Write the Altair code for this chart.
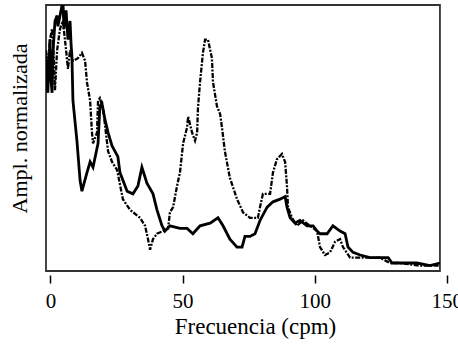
import altair as alt
import pandas as pd

# Solid (heavy) trace
solid_x = [-1.7, -1.3, -1.0, -0.2, 0.2, 0.6, 1.0, 1.7, 2.5, 2.8, 3.6, 4.4, 4.7, 5.1, 5.9, 6.6,
           7.4, 7.8, 8.1, 8.5, 10.0, 11.2, 11.9, 13.8, 15.0, 16.1, 18.0, 18.7, 19.5, 20.6, 21.8,
           23.3, 25.5, 26.3, 29.0, 31.2, 33.1, 34.6, 36.5, 38.8, 40.3, 42.2, 43.3, 45.2, 49.0,
           51.7, 53.9, 56.6, 60.4, 63.4, 65.3, 67.9, 70.6, 72.5, 73.6, 75.5, 77.4, 79.3, 82.0,
           84.2, 86.9, 88.8, 89.5, 90.7, 92.5, 94.4, 97.1, 99.4, 100.9, 102.0, 104.7, 106.9,
           109.6, 111.5, 112.6, 114.5, 117.2, 120.9, 124.7, 127.8, 129.3, 132.3, 138.7, 143.6, 147.4]
solid_y = [0.81, 0.70, 0.67, 0.87, 0.72, 0.67, 0.83, 0.94, 0.96, 0.92, 0.96, 1.00, 1.02, 0.91, 0.98, 0.87,
           0.94, 0.85, 0.81, 0.64, 0.49, 0.34, 0.30, 0.37, 0.41, 0.39, 0.48, 0.62, 0.63, 0.57, 0.52,
           0.47, 0.43, 0.37, 0.30, 0.29, 0.32, 0.39, 0.33, 0.29, 0.23, 0.17, 0.15, 0.17, 0.16,
           0.16, 0.14, 0.17, 0.18, 0.20, 0.17, 0.12, 0.09, 0.09, 0.13, 0.13, 0.14, 0.19, 0.24,
           0.26, 0.27, 0.28, 0.24, 0.20, 0.18, 0.19, 0.17, 0.17, 0.15, 0.14, 0.14, 0.17,
           0.15, 0.14, 0.09, 0.07, 0.06, 0.05, 0.05, 0.05, 0.03, 0.03, 0.03, 0.02, 0.03]

# Dash-dot trace
dash_x = [-1.7, -1.0, -0.2, 0.6, 1.3, 1.7, 2.5, 3.6, 4.7, 5.9, 6.6, 7.4, 8.5, 10.4, 11.9, 13.1,
          13.8, 15.0, 15.7, 16.1, 17.6, 18.0, 18.7, 19.9, 21.8, 23.3, 25.2, 27.4, 30.1, 33.9,
          35.8, 36.9, 37.7, 38.8, 40.3, 42.6, 44.5, 45.2, 46.4, 47.9, 49.0, 50.2, 51.7, 52.1,
          53.6, 54.7, 55.5, 55.8, 56.6, 57.7, 58.5, 59.6, 61.1, 61.5, 63.0, 64.2, 64.9, 66.0,
          67.9, 70.6, 72.9, 75.5, 78.5, 79.3, 80.4, 83.1, 84.2, 85.7, 87.6, 88.8, 89.5, 89.9,
          91.4, 93.3, 95.6, 98.2, 100.9, 102.0, 103.9, 105.8, 107.7, 109.6, 110.7, 113.4,
          117.2, 120.9, 124.7, 128.5, 132.3, 139.9, 147.4]
dash_y = [0.83, 0.76, 0.87, 0.91, 0.79, 0.68, 0.83, 0.91, 0.94, 0.83, 0.76, 0.83, 0.79, 0.80, 0.82, 0.79,
          0.71, 0.64, 0.52, 0.48, 0.52, 0.64, 0.65, 0.61, 0.45, 0.41, 0.38, 0.27, 0.23, 0.20,
          0.17, 0.12, 0.08, 0.12, 0.14, 0.15, 0.16, 0.22, 0.24, 0.32, 0.37, 0.48, 0.54, 0.58,
          0.52, 0.49, 0.52, 0.61, 0.71, 0.82, 0.87, 0.87, 0.80, 0.71, 0.62, 0.59, 0.54, 0.45,
          0.35, 0.27, 0.22, 0.20, 0.20, 0.24, 0.29, 0.29, 0.37, 0.42, 0.44, 0.41, 0.32, 0.24,
          0.20, 0.17, 0.19, 0.17, 0.15, 0.09, 0.06, 0.07, 0.11, 0.12, 0.09, 0.05,
          0.05, 0.05, 0.05, 0.03, 0.03, 0.02, 0.02]

x_ticks = [0, 50, 100, 150]
x_domain = [-1.7, 150.45]
frame_x = [-1.7, 147.4]

FONT = "Liberation Serif, Times New Roman, serif"

df_solid = pd.DataFrame({"f": solid_x, "a": solid_y})
df_dash = pd.DataFrame({"f": dash_x, "a": dash_y})
df_frame = pd.DataFrame({"f": [frame_x[0]], "f2": [frame_x[1]], "a": [0.0], "a2": [1.0]})

xscale = alt.Scale(domain=x_domain, nice=False, zero=False)
yscale = alt.Scale(domain=[0, 1], nice=False, zero=False)

xaxis = alt.Axis(values=x_ticks, title="Frecuencia (cpm)", domain=False, grid=False,
                 offset=4, tickSize=8, tickWidth=1.5, tickColor="black",
                 labelFont=FONT, labelFontSize=21, labelColor="black", labelPadding=24,
                 labelBaseline="alphabetic", labelFlush=False,
                 titleFont=FONT, titleFontSize=23, titleFontWeight="normal", titleColor="black",
                 titleX=209, titleY=58, titleBaseline="alphabetic", titleAlign="center")
yaxis = alt.Axis(title="Ampl. normalizada", labels=False, ticks=False, domain=False, grid=False,
                 titleFont=FONT, titleFontSize=22, titleFontWeight="normal", titleColor="black",
                 titleX=-20, titleY=123, titleAngle=-90, titleBaseline="alphabetic", titleAlign="center")

frame = alt.Chart(df_frame).mark_rect(fillOpacity=0, stroke="#333333", strokeWidth=1.8).encode(
    x=alt.X("f:Q", scale=xscale, axis=xaxis),
    x2="f2:Q",
    y=alt.Y("a:Q", scale=yscale, axis=yaxis),
    y2="a2:Q",
)

solid = alt.Chart(df_solid).mark_line(color="black", strokeWidth=2.8, clip=True).encode(
    x=alt.X("f:Q", scale=xscale, axis=xaxis),
    y=alt.Y("a:Q", scale=yscale, axis=yaxis),
    order="f:Q",
)

dashed = alt.Chart(df_dash).mark_line(color="black", strokeWidth=2.3, clip=True,
                                      strokeDash=[5, 1.5, 2, 1.5]).encode(
    x=alt.X("f:Q", scale=xscale, axis=xaxis),
    y=alt.Y("a:Q", scale=yscale, axis=yaxis),
    order="f:Q",
)

chart = alt.layer(frame, dashed, solid).properties(
    width=402, height=266,
    autosize=alt.AutoSizeParams(type="none"),
    padding={"left": 46, "top": 5, "right": 10, "bottom": 73},
    background="white",
).configure_view(stroke=None)

chart.save("out.html", embed_options={"renderer": "svg", "actions": False})
